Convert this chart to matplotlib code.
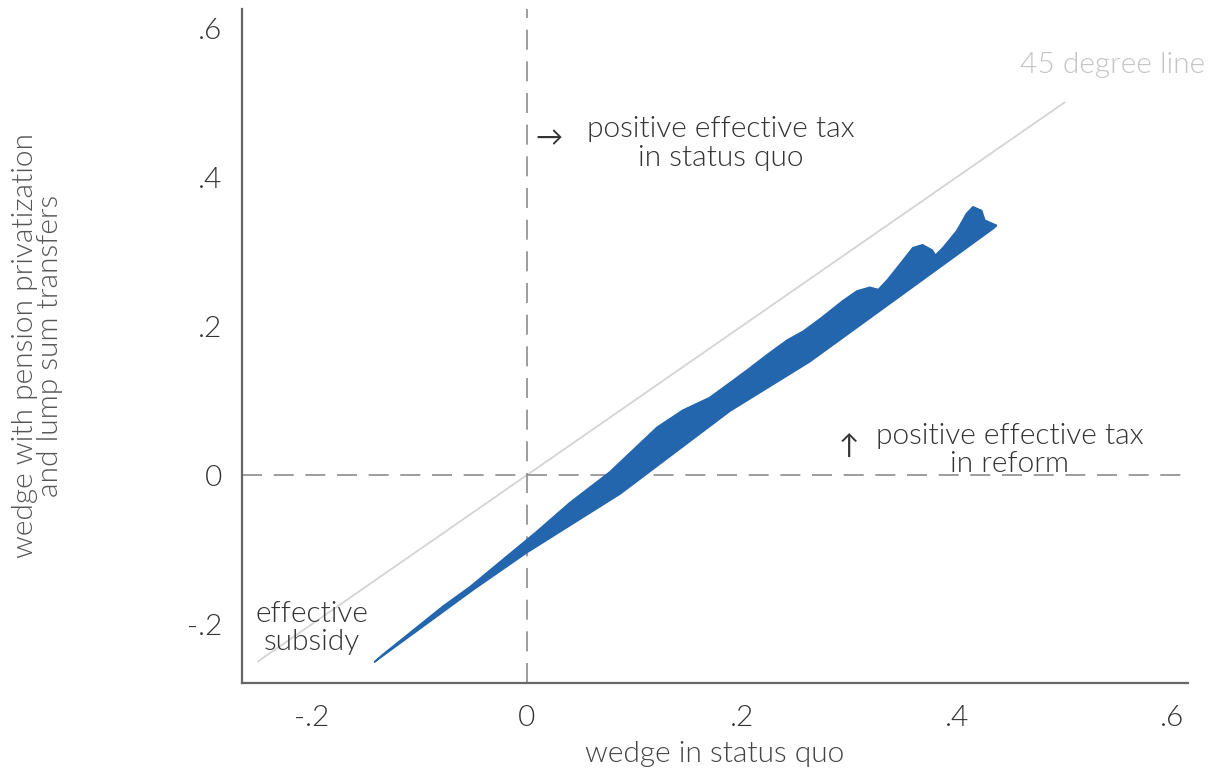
"""
Wedge with pension privatization vs. wedge in the status quo.

The cloud of simulated households is drawn as a filled band whose lower and
upper edges were read off the original figure.
"""

import matplotlib
matplotlib.use("Agg")
import matplotlib.pyplot as plt

plt.rcParams["font.family"] = ["Lato", "DejaVu Sans"]

# Band of simulated wedges (status quo wedge on x, reform wedge on y).
upper_x = [-0.142, -0.135, -0.078, -0.053, -0.022, 0.009, 0.040, 0.077,
           0.121, 0.145, 0.170, 0.189, 0.205, 0.223, 0.242, 0.257, 0.273,
           0.294, 0.307, 0.319, 0.327, 0.336, 0.347, 0.359, 0.368, 0.377,
           0.380, 0.387, 0.400, 0.409, 0.415, 0.423, 0.426, 0.437]
upper_y = [-0.251, -0.242, -0.176, -0.150, -0.113, -0.076, -0.037, 0.004,
           0.064, 0.087, 0.104, 0.124, 0.141, 0.161, 0.181, 0.193, 0.210,
           0.234, 0.247, 0.252, 0.249, 0.263, 0.283, 0.305, 0.309, 0.302,
           0.295, 0.305, 0.328, 0.351, 0.360, 0.355, 0.342, 0.335]
lower_x = [-0.142, -0.050, 0.000, 0.087, 0.189, 0.263, 0.350, 0.434, 0.437]
lower_y = [-0.251, -0.154, -0.104, -0.025, 0.086, 0.152, 0.243, 0.331, 0.335]

# 45 degree reference line
diag = [-0.25, 0.5]

xticks = [-0.2, 0.0, 0.2, 0.4, 0.6]
xtick_labels = ["-.2", "0", ".2", ".4", ".6"]
yticks = [-0.2, 0.0, 0.2, 0.4, 0.6]
ytick_labels = ["-.2", "0", ".2", ".4", ".6"]

BLUE = "#2466ad"
TXT = "#333333"
FS = 21.5
W = 300
LS = 1.1

fig = plt.figure(figsize=(12.16, 7.72), dpi=100)
ax = fig.add_axes([242 / 1216, 1 - 683 / 772, (1188 - 242) / 1216, (683 - 9) / 772])
ax.set_xlim(-0.265, 0.615)
ax.set_ylim(-0.279, 0.6255)

# reference lines
ax.plot(diag, diag, color="#d4d4d4", lw=1.3, zorder=1)
ax.axvline(0, color="#8c8c8c", lw=1.2, ls=(0, (12, 7)), zorder=1)
ax.axhline(0, color="#8c8c8c", lw=1.2, ls=(0, (12, 7)), zorder=1)

# the cloud of points as a band
poly_x = upper_x + lower_x[::-1]
poly_y = upper_y + lower_y[::-1]
ax.fill(poly_x, poly_y, color=BLUE, lw=1.2, ec=BLUE, zorder=2)

# annotations
ax.text(0.545, 0.550, "45 degree line", color="#c4c4c4", fontsize=FS,
        fontweight=W, ha="center", va="center")
ax.text(0.021, 0.452, "→", color=TXT, fontsize=FS - 2, ha="center", va="center")
ax.text(0.180, 0.445, "positive effective tax\nin status quo", color=TXT,
        fontsize=FS, fontweight=W, ha="center", va="center", linespacing=LS)
ax.text(0.299, 0.038, "↑", color=TXT, fontsize=FS - 2, ha="center", va="center")
ax.text(0.449, 0.034, "positive effective tax\nin reform", color=TXT,
        fontsize=FS, fontweight=W, ha="center", va="center", linespacing=LS)
ax.text(-0.200, -0.205, "effective\nsubsidy", color=TXT, fontsize=FS,
        fontweight=W, ha="center", va="center", linespacing=LS)

ax.set_xticks(xticks)
ax.set_xticklabels(xtick_labels, fontweight=W)
ax.set_yticks(yticks)
ax.set_yticklabels(ytick_labels, fontweight=W)
ax.tick_params(length=0, labelsize=FS, labelcolor=TXT)
ax.tick_params(axis="x", pad=16)
ax.tick_params(axis="y", pad=14)

for s in ["top", "right"]:
    ax.spines[s].set_visible(False)
for s in ["left", "bottom"]:
    ax.spines[s].set_color("#666666")
    ax.spines[s].set_linewidth(1.6)

ax.set_xlabel("wedge in status quo", fontsize=FS, fontweight=W,
              color="#444444", labelpad=7)
ax.set_ylabel("wedge with pension privatization\nand lump sum transfers",
              fontsize=FS, fontweight=W, color="#555555", linespacing=0.95)
ax.yaxis.set_label_coords(-0.189, 0.5)

fig.savefig("out.png", dpi=100)
